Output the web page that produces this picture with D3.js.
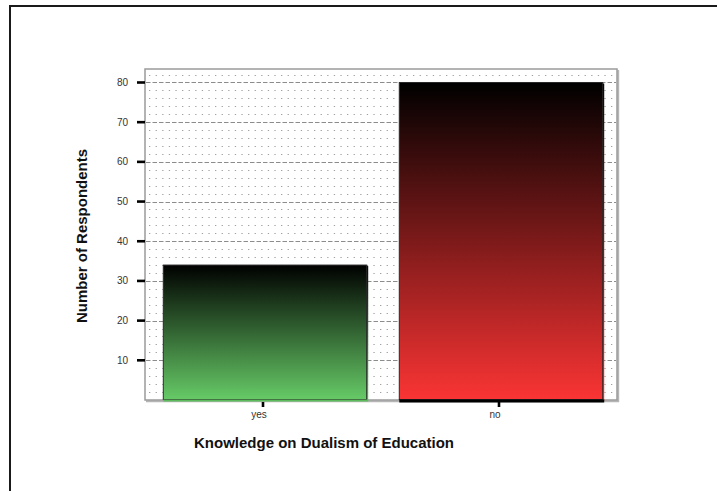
<!DOCTYPE html>
<html>
<head>
<meta charset="utf-8">
<script src="https://cdn.jsdelivr.net/npm/d3@7"></script>
<style>
  html, body { margin: 0; padding: 0; background: #fff; }
  svg { display: block; font-family: "Liberation Sans", Arial, sans-serif; }
</style>
</head>
<body>
<svg id="chart" width="717" height="491"></svg>
<script>
// Survey answers
const categories = ["yes", "no"];
const respondents = [34, 80];
const yTicks = [10, 20, 30, 40, 50, 60, 70, 80];
const xTitle = "Knowledge on Dualism of Education";
const yTitle = "Number of Respondents";

// Bar appearance (top colour, bottom colour, base line)
const barTop = ["#000000", "#000000"];
const barBottom = ["#66ca66", "#fa3434"];
const baseLine = ["#5cbc5c", "#000000"];

const svg = d3.select("#chart");
const plot = { left: 145, top: 69, right: 617, bottom: 400 };

const x = d3.scaleBand()
  .domain(categories)
  .range([plot.left, plot.right])
  .paddingInner(0.138)
  .paddingOuter(0.069);

const y = d3.scaleLinear()
  .domain([0, 83.4])
  .range([plot.bottom, plot.top]);

// Outer frame
svg.append("rect")
  .attr("x", 10).attr("y", 6)
  .attr("width", 900).attr("height", 700)
  .attr("fill", "none")
  .attr("stroke", "#1a1a1a")
  .attr("stroke-width", 2);

// Gradients
const defs = svg.append("defs");
categories.forEach((c, i) => {
  const g = defs.append("linearGradient")
    .attr("id", "grad-" + i)
    .attr("x1", 0).attr("y1", 0).attr("x2", 0).attr("y2", 1);
  g.append("stop").attr("offset", "0%").attr("stop-color", barTop[i]);
  g.append("stop").attr("offset", "100%").attr("stop-color", barBottom[i]);
});

// Plot panel with drop shadow
svg.append("path")
  .attr("d", `M${plot.left + 1},${plot.bottom + 1.2}H${plot.right + 1.2}V${plot.top + 1}`)
  .attr("fill", "none")
  .attr("stroke", "#b5b5b5")
  .attr("stroke-width", 2);
svg.append("rect")
  .attr("x", plot.left).attr("y", plot.top)
  .attr("width", plot.right - plot.left)
  .attr("height", plot.bottom - plot.top)
  .attr("fill", "#fff")
  .attr("stroke", "#9a9a9a")
  .attr("stroke-width", 1.5);

// Minor dotted grid every 2 units
const minor = d3.range(2, 84, 2).filter(v => v % 10 !== 0);
svg.append("g")
  .selectAll("line")
  .data(minor)
  .join("line")
  .attr("x1", plot.left + 4)
  .attr("x2", plot.right - 1)
  .attr("y1", d => Math.round(y(d)) + 0.5)
  .attr("y2", d => Math.round(y(d)) + 0.5)
  .attr("stroke", "#a0a0a0")
  .attr("stroke-width", 1)
  .attr("stroke-dasharray", "1.3,5.3");

// Major dashed grid
svg.append("g")
  .selectAll("line")
  .data(yTicks)
  .join("line")
  .attr("x1", plot.left + 1)
  .attr("x2", plot.right - 1)
  .attr("y1", d => Math.round(y(d)) + 0.5)
  .attr("y2", d => Math.round(y(d)) + 0.5)
  .attr("stroke", "#8c8c8c")
  .attr("stroke-width", 1)
  .attr("stroke-dasharray", "4.5,2");

// Bars
const bars = svg.append("g");
categories.forEach((c, i) => {
  const x0 = x(c) + 2;
  const w = x.bandwidth();
  const y0 = y(respondents[i]);
  const h = y(0) - y0;
  // offset copy behind the bar
  bars.append("rect")
    .attr("x", x0 + 1.5).attr("y", y0 + 1)
    .attr("width", w).attr("height", h)
    .attr("fill", `url(#grad-${i})`);
  bars.append("rect")
    .attr("x", x0).attr("y", y0)
    .attr("width", w).attr("height", h - 0.5)
    .attr("fill", `url(#grad-${i})`)
    .attr("stroke", "#2a2a2a")
    .attr("stroke-width", 1);
  bars.append("line")
    .attr("x1", x0).attr("x2", x0 + w + 1.5)
    .attr("y1", y(0) + (i === 1 ? 1 : 0.5))
    .attr("y2", y(0) + (i === 1 ? 1 : 0.5))
    .attr("stroke", baseLine[i])
    .attr("stroke-width", i === 1 ? 3 : 2);
});

// Y axis ticks and labels
const yAxis = svg.append("g");
yAxis.selectAll("line")
  .data(yTicks)
  .join("line")
  .attr("x1", plot.left - 8).attr("x2", plot.left)
  .attr("y1", d => y(d)).attr("y2", d => y(d))
  .attr("stroke", "#000")
  .attr("stroke-width", 2.6);
yAxis.selectAll("text")
  .data(yTicks)
  .join("text")
  .attr("x", 128)
  .attr("y", d => y(d) + 3.5)
  .attr("text-anchor", "end")
  .attr("font-size", 10)
  .attr("fill", "#333")
  .text(d => d);

// X axis ticks and labels
const xAxis = svg.append("g");
xAxis.selectAll("line")
  .data(categories)
  .join("line")
  .attr("x1", d => x(d) + x.bandwidth() / 2)
  .attr("x2", d => x(d) + x.bandwidth() / 2)
  .attr("y1", plot.bottom + 2).attr("y2", plot.bottom + 7)
  .attr("stroke", "#000")
  .attr("stroke-width", 2.6);
xAxis.selectAll("text")
  .data(categories)
  .join("text")
  .attr("x", d => x(d) + x.bandwidth() / 2 - 4)
  .attr("y", 418)
  .attr("text-anchor", "middle")
  .attr("font-size", 10)
  .attr("fill", "#333")
  .text(d => d);

// Axis titles
svg.append("text")
  .attr("x", 324).attr("y", 448)
  .attr("text-anchor", "middle")
  .attr("font-size", 15)
  .attr("font-weight", "bold")
  .attr("fill", "#111")
  .text(xTitle);
svg.append("text")
  .attr("transform", "translate(87,236) rotate(-90)")
  .attr("text-anchor", "middle")
  .attr("font-size", 15)
  .attr("font-weight", "bold")
  .attr("fill", "#111")
  .text(yTitle);
</script>
</body>
</html>
